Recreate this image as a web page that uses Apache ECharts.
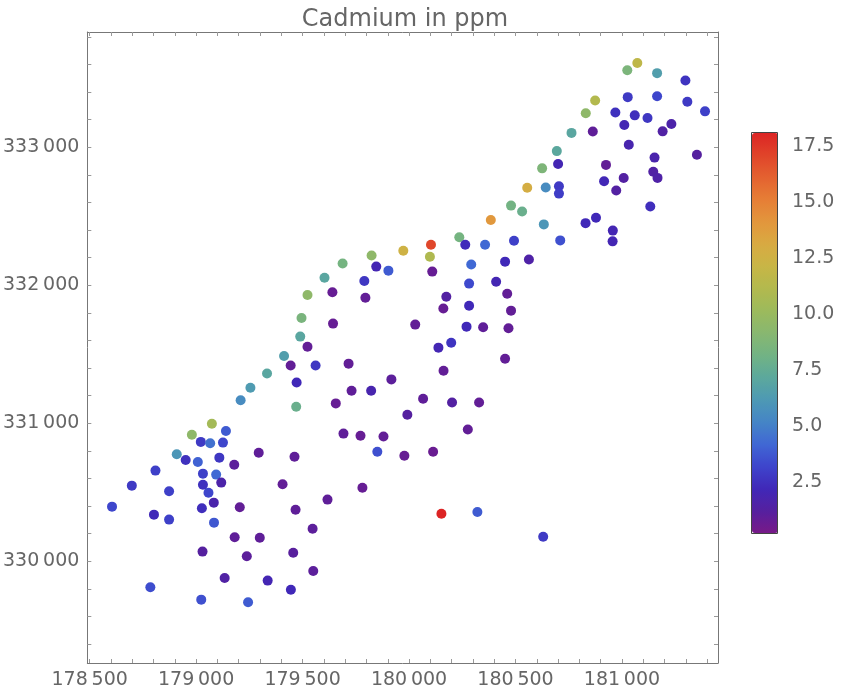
<!DOCTYPE html>
<html>
<head>
<meta charset="utf-8">
<script src="https://cdn.jsdelivr.net/npm/echarts@6/dist/echarts.min.js"></script>
<style>html,body{margin:0;padding:0;background:#fff}#chart{width:848px;height:696px}</style>
</head>
<body>
<div id="chart"></div>
<script>
const eastings = [181072,181025,181165,181298,181307,181390,181165,181027,181060,181232,181191,181032,180874,180969,181011,180830,180763,180694,180625,180555,180642,180704,180704,181153,181147,181167,181008,180973,180916,181352,181133,180878,180829,181120,180863,180700,180925,180957,180956,180710,180633,180479,180531,180384,180236,180264,180357,180493,180103,179973,180098,180292,180451,180563,179824,179688,179846,179903,179603,179790,179523,179640,179795,179495,179643,179489,179523,179413,179444,179561,179716,179333,179255,179472,179730,179822,179917,179209,179470,179656,180066,180202,180329,179992,180276,179692,179772,179880,179851,179978,180113,179781,179617,179547,179550,180152,180321,180630,180109,180282,180409,180175,180461,180161,180282,180479,180029,180270,180348,180467,180198,180138,180451,180162,179074,178980,179140,179022,179066,179126,178909,178951,179008,179109,179179,179294,179462,178809,179032,179094,178698,178873,179032,179058,179118,179406,178605,178802,178873,179027,179083,179084,179205,179467,179181,179299,179030,179238,179456,179134,179336,179445,178785,179024,179244];
const northings = [333611,333558,333537,333484,333330,333260,333370,333363,333231,333168,333115,333018,333339,333252,333161,333246,333104,332972,332847,332707,332708,332717,332664,332925,332823,332778,332777,332687,332753,332946,332570,332489,332450,333212,333114,332879,332872,332396,332318,332325,332441,332577,332535,332473,332348,332294,332294,332323,332294,332250,332207,332151,332171,332186,332215,332157,332135,332106,332055,332031,331930,331949,331910,331763,331722,331628,331555,331488,331418,331418,331432,331360,331258,331296,331236,331236,331318,331167,331120,331144,331178,331151,331151,331062,330955,330925,330910,330904,330794,330765,330794,330533,330447,330236,329930,330345,330357,330178,332099,332012,332026,331917,331939,331831,331852,331816,331715,331700,331696,331688,331584,331548,331468,331381,330997,330917,330944,330865,330855,330860,330775,330734,330720,330751,330700,330787,330757,330657,330635,330628,330548,330507,330555,330497,330570,330558,330396,330338,330302,330384,330425,330280,330391,330373,330174,330171,330070,330036,330062,329879,329860,329794,329812,329722,329703];
const cadmium = [11.7,8.6,6.5,2.6,2.8,3.0,3.2,2.8,2.4,1.6,1.4,1.8,11.2,2.5,2.0,9.5,7.0,7.1,8.7,12.9,5.5,2.8,2.9,1.7,1.4,1.5,1.3,1.3,2.1,1.2,2.4,2.2,2.2,2.7,0.9,2.0,0.8,2.0,2.0,3.5,6.0,8.2,7.8,14.0,8.3,2.3,4.2,3.0,17.0,12.5,11.0,4.2,2.2,1.5,9.5,8.3,2.0,3.8,7.0,2.7,9.5,0.7,0.8,8.5,0.7,7.0,0.8,6.5,0.8,2.7,0.8,7.0,6.3,2.2,0.9,1.8,1.0,5.5,7.8,0.7,0.9,1.3,0.8,1.2,0.8,0.9,0.7,0.8,3.5,0.7,0.6,0.7,0.9,1.0,1.0,18.1,3.8,2.8,0.7,3.3,2.0,1.3,0.8,0.7,2.2,0.8,0.8,2.2,0.9,0.8,2.6,2.0,0.8,0.8,10.5,9.5,3.8,2.8,4.5,3.2,6.0,2.5,4.0,2.7,1.0,0.9,0.9,3.0,3.0,4.2,2.8,3.0,2.5,3.2,1.6,0.8,3.2,2.2,3.0,2.4,1.7,3.7,0.8,0.9,0.9,0.9,1.2,1.0,1.1,1.4,2.0,2.2,3.4,3.5,3.8];

const xTickLabels = [178500,179000,179500,180000,180500,181000];
const yTickLabels = [330000,331000,332000,333000];
const colorTickLabels = [2.5,5,7.5,10,12.5,15,17.5];
const cdMin = 0.2, cdMax = 18.1;

const rainbow = ['#771a88','#55209f','#4028b8','#3e45cc','#4068d4','#4585c6','#4d99b4','#5ca89c','#72b384','#88b770','#9cba5c','#b2b94e','#c8b646','#d8aa42','#e2963c','#e67e36','#e46230','#e0442a','#dc2424'];

function range(a, b, s) { const r = []; for (let v = a; v <= b + 1e-9; v += s) r.push(Math.round(v * 100) / 100); return r; }
const xMinor = range(178500, 181400, 100);
const yMinor = range(329400, 333800, 200);
const cMinor = range(0.5, 18.0, 0.5);

const points = eastings.map((e, i) => [e, northings[i], cadmium[i]]);
const FONT = 'DejaVu Sans';
const fmt = v => { const s = String(Math.round(v)); return s.slice(0, 3) + '\u2009' + s.slice(3); };
const frame = '#777';

function xAx(pos, labels) {
  return {
    type: 'value', gridIndex: 0, position: pos, min: 178489, max: 181451,
    axisLine: { show: true, onZero: false, lineStyle: { color: frame, width: 1 } },
    axisTick: { show: true, inside: true, length: 4, customValues: xMinor, lineStyle: { color: '#999' } },
    axisLabel: labels ? { show: true, customValues: xTickLabels, formatter: fmt, fontFamily: FONT, fontSize: 19, color: '#666', margin: 8 } : { show: false },
    splitLine: { show: false }
  };
}
function yAx(pos, labels) {
  return {
    type: 'value', gridIndex: 0, position: pos, min: 329263, max: 333835,
    axisLine: { show: true, onZero: false, lineStyle: { color: frame, width: 1 } },
    axisTick: { show: true, inside: true, length: 4, customValues: yMinor, lineStyle: { color: '#999' } },
    axisLabel: labels ? { show: true, customValues: yTickLabels, formatter: fmt, fontFamily: FONT, fontSize: 19, color: '#666', margin: 8 } : { show: false },
    splitLine: { show: false }
  };
}

const chart = echarts.init(document.getElementById('chart'), null, { renderer: 'canvas' });
chart.setOption({
  animation: false,
  backgroundColor: '#fff',
  title: {
    text: 'Cadmium in ppm', left: 400, top: 3, textAlign: 'center',
    textStyle: { fontFamily: FONT, fontSize: 24, fontWeight: 'normal', color: '#666' }
  },
  grid: [
    { left: 86, right: 130, top: 32, bottom: 33 },
    { left: 752, top: 133, width: 26, height: 400 }
  ],
  xAxis: [
    xAx('bottom', true),
    xAx('top', false),
    { type: 'value', gridIndex: 1, show: false, min: 0, max: 1 }
  ],
  yAxis: [
    yAx('left', true),
    yAx('right', false),
    {
      type: 'value', gridIndex: 1, position: 'right', min: cdMin, max: cdMax,
      axisLine: { show: false },
      axisTick: { show: true, inside: false, length: 5, customValues: cMinor, lineStyle: { color: '#999' } },
      axisLabel: { show: true, customValues: colorTickLabels, formatter: v => v.toFixed(1), fontFamily: FONT, fontSize: 19, color: '#666', margin: 14 },
      splitLine: { show: false }
    }
  ],
  visualMap: {
    type: 'continuous', min: cdMin, max: cdMax, dimension: 2, seriesIndex: 0,
    calculable: false, show: true, left: 752, top: 133, itemWidth: 26, itemHeight: 400,
    padding: 0, text: null, inRange: { color: rainbow }, hoverLink: false
  },
  graphic: [
    { type: 'rect', z: 100, shape: { x: 751.5, y: 132.5, width: 26, height: 401 }, style: { fill: null, stroke: '#444', lineWidth: 1 } }
  ],
  series: [
    { type: 'scatter', xAxisIndex: 0, yAxisIndex: 0, symbolSize: 10, data: points, itemStyle: { opacity: 1 } },
    { type: 'scatter', xAxisIndex: 2, yAxisIndex: 2, data: [] }
  ]
});
</script>
</body>
</html>
